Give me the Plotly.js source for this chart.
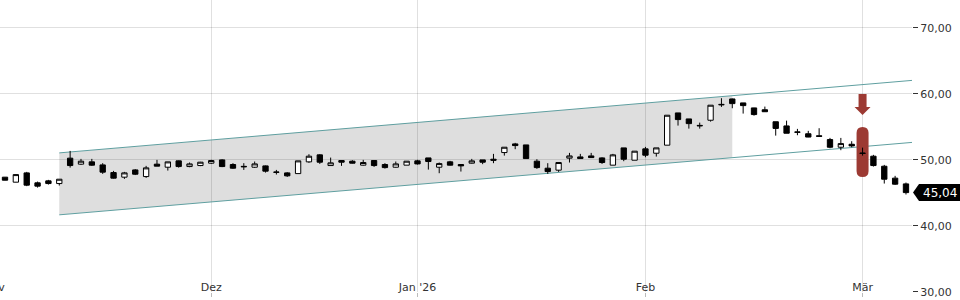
<!DOCTYPE html>
<html><head><meta charset="utf-8">
<script src="https://cdn.plot.ly/plotly-3.0.1.min.js"></script>
<style>
html,body{margin:0;padding:0;background:#fff;overflow:hidden;width:960px;height:300px}
#chart{position:absolute;left:-12px;top:0;width:972px;height:300px}
</style>
</head><body><div id="chart"></div>
<script>
// trading days (Xetra calendar)
const dates = [
 '2025-11-04','2025-11-05','2025-11-06','2025-11-07','2025-11-10','2025-11-11','2025-11-12','2025-11-13','2025-11-14','2025-11-17',
 '2025-11-18','2025-11-19','2025-11-20','2025-11-21','2025-11-24','2025-11-25','2025-11-26','2025-11-27','2025-11-28',
 '2025-12-01','2025-12-02','2025-12-03','2025-12-04','2025-12-05','2025-12-08','2025-12-09','2025-12-10','2025-12-11','2025-12-12',
 '2025-12-15','2025-12-16','2025-12-17','2025-12-18','2025-12-19','2025-12-22','2025-12-23','2025-12-29','2025-12-30',
 '2026-01-02','2026-01-05','2026-01-06','2026-01-07','2026-01-08','2026-01-09','2026-01-12','2026-01-13','2026-01-14','2026-01-15',
 '2026-01-16','2026-01-19','2026-01-20','2026-01-21','2026-01-22','2026-01-23','2026-01-26','2026-01-27','2026-01-28','2026-01-29','2026-01-30',
 '2026-02-02','2026-02-03','2026-02-04','2026-02-05','2026-02-06','2026-02-09','2026-02-10','2026-02-11','2026-02-12','2026-02-13',
 '2026-02-16','2026-02-17','2026-02-18','2026-02-19','2026-02-20','2026-02-23','2026-02-24','2026-02-25','2026-02-26','2026-02-27',
 '2026-03-02','2026-03-03','2026-03-04','2026-03-05','2026-03-06'
];
const holidays = ['2025-12-24','2025-12-25','2025-12-26','2025-12-31','2026-01-01'];

const open = [
 47.38,46.62,48.03,46.52,46.82,46.41,50.26,49.35,49.70,49.24,48.08,47.38,48.48,47.47,49.35,48.89,49.85,48.99,49.14,
 49.50,50.00,49.30,49.02,48.89,49.09,48.16,48.03,47.92,49.70,50.76,49.14,49.90,49.80,49.20,49.90,49.30,48.89,49.20,
 49.85,50.30,48.89,49.70,49.30,49.50,50.00,50.10,51.11,52.42,52.27,49.80,48.74,48.44,50.26,50.45,50.60,50.30,49.20,51.82,49.95,
 51.67,51.01,52.23,57.12,56.21,55.23,56.01,58.42,59.24,58.64,57.88,57.60,55.78,55.15,54.24,53.96,53.65,53.08,51.92,52.37,
 51.04,50.56,49.04,47.23,46.36];
const high = [
 47.40,47.80,48.18,46.71,46.97,47.07,51.36,50.15,50.15,49.50,48.33,48.18,48.60,49.09,50.00,49.70,49.90,49.60,49.70,
 50.00,50.10,49.50,49.50,49.75,49.15,48.48,48.14,49.85,50.86,50.86,50.35,49.90,49.95,50.00,49.95,49.50,49.75,49.80,
 50.00,50.30,49.60,49.85,49.30,50.15,50.00,50.91,51.92,52.58,52.27,50.10,49.50,49.60,51.06,50.91,51.06,50.40,50.91,51.82,51.32,
 51.97,51.82,56.77,57.12,56.21,55.65,58.29,59.35,59.30,58.64,57.90,58.08,55.78,55.95,54.70,54.40,54.80,53.33,53.33,52.83,
 51.86,50.76,49.24,47.58,46.56];
const low = [
 46.90,46.60,46.02,45.80,46.26,46.11,48.83,49.24,49.09,47.88,47.17,47.12,47.70,47.27,49.05,48.38,48.83,48.89,49.05,
 49.39,48.90,48.64,48.48,48.79,48.08,47.78,47.42,47.92,49.55,49.39,49.14,49.09,49.45,49.14,48.94,48.68,48.83,49.20,
 49.30,48.53,47.98,49.15,48.23,49.44,49.35,49.50,50.65,51.62,50.20,48.64,47.88,48.18,49.60,50.20,50.35,49.39,49.20,49.80,49.95,
 50.40,50.50,52.23,55.20,54.74,54.74,55.80,58.03,57.83,57.02,56.71,57.30,53.68,54.04,53.74,53.44,53.55,51.77,51.47,51.92,
 50.65,48.99,46.41,46.21,44.75];
const close = [
 46.92,47.77,46.17,46.02,46.41,47.07,49.14,49.80,49.20,48.14,47.23,48.03,47.83,48.79,49.05,49.70,48.99,49.39,49.65,
 49.90,48.99,48.74,48.96,49.39,48.29,48.12,47.58,49.85,50.56,49.65,49.55,49.65,49.50,49.60,49.14,48.83,49.39,49.80,
 49.39,49.75,49.44,49.20,49.09,49.85,49.65,49.95,51.92,52.17,50.20,48.83,48.23,49.60,50.60,50.20,50.35,49.60,50.76,50.10,51.32,
 50.71,51.82,56.77,56.11,55.50,55.17,58.29,58.36,58.53,58.23,56.87,57.30,54.77,54.04,54.19,53.46,53.57,51.92,52.47,52.12,
 50.98,49.14,47.07,46.32,45.04];

// axis ticks
const tickDates = ['2025-11-03','2025-12-01','2026-01-02','2026-02-02','2026-03-02'];
const tickLabels = ['Nov','Dez',"Jan '26",'Feb','Mär'];
const yTicks = [30,40,50,60,70];
const xRange = ['2025-10-31 10:25','2026-03-06 13:19'];
const yRange = [29.97, 74.24];

// trend channel
const channelDates = ['2025-11-11','2026-03-06 13:19'];
const channelUpper = [51.06, 62.05];
const channelLower = [41.67, 52.65];
const shadeDates = ['2025-11-11','2026-02-12'];
const shadeUpper = [51.06, 59.73];
const shadeLower = [41.67, 50.33];

// signal marker
const signalDate = '2026-03-02';
const signalLevel = 51.2;

const red = '#9c3a33';
const teal = '#5f9fa0';

const candle = {
  type:'candlestick', x:dates, open:open, high:high, low:low, close:close,
  increasing:{line:{color:'#000',width:1}, fillcolor:'#ffffff'},
  decreasing:{line:{color:'#000',width:1}, fillcolor:'#000000'},
  whiskerwidth:0, hoverinfo:'skip', showlegend:false
};

const last = close[close.length-1];
const lastText = last.toFixed(2).replace('.', ',');
const lastPaper = (last - yRange[0])/(yRange[1]-yRange[0]);

const shapes = [
  {type:'path', layer:'below', xref:'x', yref:'y', line:{width:0}, fillcolor:'#dedede',
   path:'M'+shadeDates[0]+','+shadeUpper[0]+'L'+shadeDates[1]+','+shadeUpper[1]+
        'L'+shadeDates[1]+','+shadeLower[1]+'L'+shadeDates[0]+','+shadeLower[0]+'Z'},
  {type:'line', layer:'between', xref:'x', yref:'y', x0:channelDates[0], x1:channelDates[1],
   y0:channelUpper[0], y1:channelUpper[1], line:{color:teal, width:1}},
  {type:'line', layer:'between', xref:'x', yref:'y', x0:channelDates[0], x1:channelDates[1],
   y0:channelLower[0], y1:channelLower[1], line:{color:teal, width:1}},
  {type:'path', layer:'between', xref:'x', yref:'y', xsizemode:'pixel', ysizemode:'pixel',
   xanchor:signalDate, yanchor:signalLevel, fillcolor:red, line:{width:0},
   path:'M-6,19 L-6,-19 Q-6,-25 0,-25 Q6,-25 6,-19 L6,19 Q6,25 0,25 Q-6,25 -6,19 Z'},
  {type:'path', layer:'between', xref:'x', yref:'y', xsizemode:'pixel', ysizemode:'pixel',
   xanchor:signalDate, yanchor:signalLevel, fillcolor:red, line:{width:0},
   path:'M-4,58 L4,58 L4,45 L8,45 L0,37 L-8,45 L-4,45 Z'},
  {type:'path', layer:'above', xref:'paper', yref:'paper', xsizemode:'pixel', ysizemode:'pixel',
   xanchor:1, yanchor:lastPaper, fillcolor:'#000', line:{width:0},
   path:'M1,0 L7,8.5 L48,8.5 L48,-8.5 L7,-8.5 Z'}
];

const layout = {
  width:972, height:300,
  margin:{l:0, r:48, t:0, b:8},
  paper_bgcolor:'#fff', plot_bgcolor:'#fff',
  separators:',.',
  font:{family:'DejaVu Sans', size:11, color:'#333'},
  showlegend:false,
  xaxis:{
    type:'date', range:xRange,
    rangebreaks:[{bounds:['sat','mon']},{values:holidays}],
    rangeslider:{visible:false},
    tickmode:'array', tickvals:tickDates, ticktext:tickLabels,
    ticks:'outside', ticklen:4, tickcolor:'#bbb',
    ticklabelposition:'inside', ticklabeloverflow:'allow', ticklabelstandoff:-4,
    showgrid:true, gridcolor:'rgba(0,0,0,0.12)', gridwidth:1,
    showline:false, zeroline:false,
    tickfont:{family:'DejaVu Sans', size:11, color:'#333'}
  },
  yaxis:{
    side:'right', range:yRange, tickmode:'array', tickvals:yTicks,
    tickformat:'.2f', ticks:'outside', ticklen:5, tickcolor:'#333',
    ticklabeloverflow:'allow',
    showgrid:true, gridcolor:'rgba(0,0,0,0.12)', gridwidth:1,
    zeroline:false, showline:false,
    tickfont:{family:'DejaVu Sans', size:11, color:'#333'}
  },
  shapes:shapes,
  annotations:[{
    xref:'paper', yref:'paper', x:1, y:lastPaper, xanchor:'left', yanchor:'middle',
    xshift:9, text:lastText, showarrow:false,
    font:{family:'DejaVu Sans', size:12, color:'#fff'}
  }]
};

Plotly.newPlot('chart', [candle], layout, {staticPlot:true, displayModeBar:false});
</script>
</body></html>
